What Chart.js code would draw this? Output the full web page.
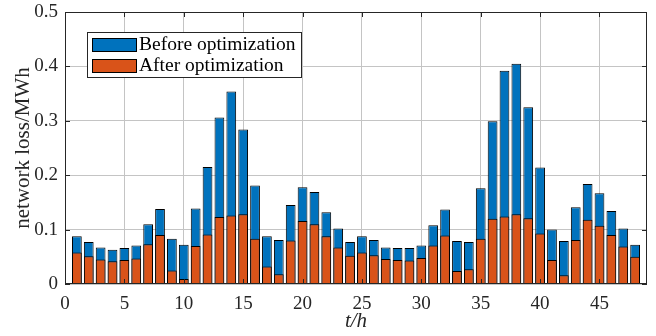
<!DOCTYPE html>
<html>
<head>
<meta charset="utf-8">
<script src="https://cdn.jsdelivr.net/npm/chart.js@4"></script>
<style>
  html, body { margin: 0; padding: 0; background: #fff; }
  #wrap { width: 656px; height: 336px; }
</style>
</head>
<body>
<div id="wrap"><canvas id="lossChart" width="656" height="336"></canvas></div>
<script>
// hours 1..48
const hours = [];
for (let h = 1; h <= 48; h++) hours.push(h);

const beforeOpt = [
  0.088, 0.077, 0.067, 0.063, 0.066, 0.071, 0.110, 0.138, 0.083, 0.072,
  0.139, 0.215, 0.306, 0.354, 0.284, 0.181, 0.088, 0.081, 0.145, 0.178,
  0.169, 0.132, 0.102, 0.077, 0.088, 0.081, 0.067, 0.066, 0.066, 0.071,
  0.108, 0.137, 0.079, 0.077, 0.176, 0.299, 0.392, 0.405, 0.325, 0.214,
  0.100, 0.079, 0.141, 0.184, 0.167, 0.134, 0.102, 0.072
];
const afterOpt = [
  0.058, 0.051, 0.045, 0.042, 0.044, 0.047, 0.073, 0.090, 0.025, 0.009,
  0.070, 0.091, 0.123, 0.126, 0.128, 0.083, 0.032, 0.018, 0.080, 0.116,
  0.110, 0.088, 0.067, 0.052, 0.058, 0.053, 0.046, 0.044, 0.043, 0.048,
  0.071, 0.089, 0.024, 0.027, 0.083, 0.120, 0.124, 0.128, 0.121, 0.093,
  0.044, 0.016, 0.081, 0.118, 0.107, 0.090, 0.069, 0.050
];
const seriesNames = ['Before optimization', 'After optimization'];
const seriesColors = ['#0072BD', '#D95319'];
const yTicks = [0, 0.1, 0.2, 0.3, 0.4, 0.5];
const xTicks = [0, 5, 10, 15, 20, 25, 30, 35, 40, 45];

const serif = '"Liberation Serif", "Times New Roman", serif';

// box, inward ticks and legend, MATLAB style
const matlabBox = {
  id: 'matlabBox',
  afterDraw(chart) {
    const c = chart.ctx, a = chart.chartArea;
    const xs = chart.scales.x, ys = chart.scales.y;
    c.save();
    c.strokeStyle = '#262626';
    c.lineWidth = 1;
    c.strokeRect(a.left + 0.5, a.top + 0.5, a.right - a.left - 1, a.bottom - a.top - 1);
    c.beginPath();
    xTicks.forEach(v => {
      const px = Math.round(xs.getPixelForValue(v)) + 0.5;
      c.moveTo(px, a.bottom); c.lineTo(px, a.bottom - 5);
      c.moveTo(px, a.top); c.lineTo(px, a.top + 5);
    });
    yTicks.forEach(v => {
      const py = Math.round(ys.getPixelForValue(v)) + 0.5;
      c.moveTo(a.left, py); c.lineTo(a.left + 5, py);
      c.moveTo(a.right, py); c.lineTo(a.right - 5, py);
    });
    c.stroke();

    // legend
    const lx = 87, ly = 32, lw = 214, lh = 45;
    c.fillStyle = '#fff';
    c.fillRect(lx, ly, lw, lh);
    c.strokeStyle = '#262626';
    c.strokeRect(lx + 0.5, ly + 0.5, lw, lh);
    c.font = '19.5px ' + serif;
    c.textBaseline = 'middle';
    seriesNames.forEach((name, i) => {
      const sy = ly + 6 + i * 21;
      c.fillStyle = seriesColors[i];
      c.fillRect(92, sy, 44, 13);
      c.strokeStyle = '#000';
      c.strokeRect(92.5, sy + 0.5, 44, 13);
      c.fillStyle = '#000';
      c.fillText(name, 139, sy + 7);
    });
    c.restore();
  }
};

new Chart(document.getElementById('lossChart'), {
  type: 'bar',
  data: {
    labels: hours,
    datasets: [
      {
        label: seriesNames[0],
        data: hours.map((h, i) => ({ x: h, y: beforeOpt[i] })),
        backgroundColor: seriesColors[0],
        borderColor: '#000',
        borderWidth: 1,
        order: 2
      },
      {
        label: seriesNames[1],
        data: hours.map((h, i) => ({ x: h, y: afterOpt[i] })),
        backgroundColor: seriesColors[1],
        borderColor: '#000',
        borderWidth: 1,
        order: 1
      }
    ]
  },
  options: {
    responsive: false,
    animation: false,
    grouped: false,
    categoryPercentage: 1,
    barPercentage: 0.82,
    layout: { padding: { top: 0, right: 9, left: 0, bottom: 0 } },
    plugins: {
      legend: { display: false },
      tooltip: { enabled: false }
    },
    scales: {
      x: {
        type: 'linear',
        offset: false,
        min: 0,
        max: 49,
        afterFit: s => { s.height = 52; },
        afterBuildTicks: s => { s.ticks = xTicks.map(v => ({ value: v })); },
        grid: { color: '#c4c4c4', drawTicks: false, offset: false },
        border: { display: false },
        ticks: { padding: 9, color: '#262626', font: { family: serif, size: 19 } },
        title: {
          display: true,
          text: 't/h',
          color: '#262626',
          padding: { top: 0, bottom: 2 },
          font: { family: serif, size: 21, style: 'italic' }
        }
      },
      y: {
        min: 0,
        max: 0.5,
        afterFit: s => { s.width = 65; s.paddingTop = 12; s.paddingBottom = 0; },
        afterBuildTicks: s => { s.ticks = yTicks.map(v => ({ value: v })); },
        grid: { color: '#c4c4c4', drawTicks: false },
        border: { display: false },
        ticks: {
          padding: 7,
          color: '#262626',
          font: { family: serif, size: 19 },
          callback: v => String(v)
        },
        title: {
          display: true,
          text: 'network loss/MWh',
          color: '#262626',
          padding: { top: 11, bottom: 0 },
          font: { family: serif, size: 21 }
        }
      }
    }
  },
  plugins: [matlabBox]
});
</script>
</body>
</html>
